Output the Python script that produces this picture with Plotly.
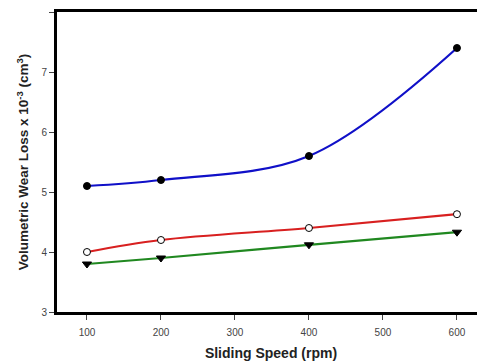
import plotly.graph_objects as go

speed = [100, 200, 400, 600]
blue_vals = [5.1, 5.2, 5.6, 7.4]
red_vals = [4.0, 4.2, 4.4, 4.63]
green_vals = [3.8, 3.9, 4.12, 4.33]
x_ticks = [100, 200, 300, 400, 500, 600]
y_ticks = [3, 4, 5, 6, 7, 8]

fig = go.Figure()
fig.add_trace(go.Scatter(x=speed, y=blue_vals, mode="lines+markers",
                         line=dict(color="#1010c8", width=2.2, shape="spline", smoothing=1),
                         marker=dict(symbol="circle", size=7, color="black",
                                     line=dict(color="black", width=1))))
fig.add_trace(go.Scatter(x=speed, y=red_vals, mode="lines+markers",
                         line=dict(color="#d82020", width=2.2, shape="spline", smoothing=1),
                         marker=dict(symbol="circle", size=7, color="white",
                                     line=dict(color="black", width=1))))
fig.add_trace(go.Scatter(x=speed, y=green_vals, mode="lines+markers",
                         line=dict(color="#208820", width=2.2, shape="spline", smoothing=1),
                         marker=dict(symbol="triangle-down", size=8, color="black",
                                     line=dict(color="black", width=1))))

# page body adds an 8px offset, so the figure is sized to the remaining window
fig.update_layout(
    width=477, height=356,
    margin=dict(l=49, r=0, t=4, b=52, autoexpand=False),
    paper_bgcolor="white", plot_bgcolor="white",
    showlegend=False,
    font=dict(family="Arial, Liberation Sans, sans-serif", color="#444"),
)
fig.update_xaxes(range=[59.5, 637.9], tickvals=x_ticks, ticks="outside", ticklen=5,
                 tickwidth=1, tickcolor="#444", showgrid=False, zeroline=False,
                 showline=True, linecolor="black", linewidth=3, mirror=True,
                 automargin=False, ticklabelstandoff=4,
                 tickfont=dict(size=10, color="#444"),
                 title=dict(text="<b>Sliding Speed (rpm)</b>", standoff=12,
                            font=dict(size=14, color="#222")))
fig.update_yaxes(range=[3, 8], tickvals=y_ticks, ticks="outside", ticklen=5,
                 tickwidth=1, tickcolor="#444", showgrid=False, zeroline=False,
                 showline=True, linecolor="black", linewidth=3, mirror=False,
                 automargin=False,
                 tickfont=dict(size=10, color="#444"),
                 title=dict(text="<b>Volumetric Wear Loss x 10<sup>-3</sup> (cm<sup>3</sup>)</b>",
                            standoff=10, font=dict(size=13.5, color="#222")))

fig.write_html("out.html")
